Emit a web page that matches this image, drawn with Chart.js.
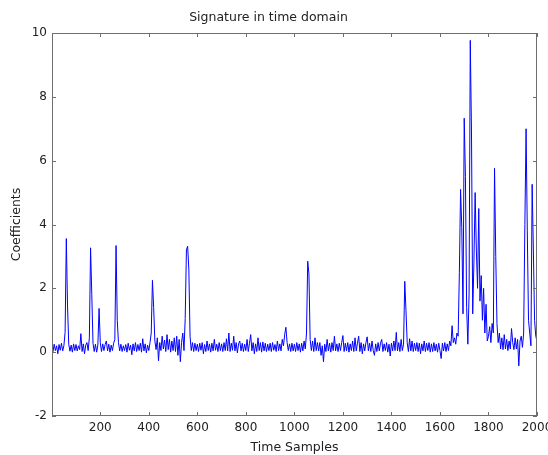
<!DOCTYPE html>
<html>
<head>
<meta charset="UTF-8">
<title>Signature in time domain</title>
<script src="https://cdn.jsdelivr.net/npm/chart.js@4"></script>
<style>
  body { margin: 0; background: #fff; }
  #wrap { width: 548px; height: 455px; }
</style>
</head>
<body>
<div id="wrap"><canvas id="sig"></canvas></div>
<script>
// one coefficient every 5 time samples (sample 0 .. 2000)
const sampleStep = 5;
const coefficients = [
  0.22, 0.02, 0.25, 0.05, 0.2, -0.05, 0.24, 0.06, 0.28, 0.04, 0.2, 0.62, 3.56, 1.45, 0.25, 0.03, 0.22, 0.0, 0.26, 0.05,
  0.24, 0.04, 0.2, 0.08, 0.58, 0.02, 0.26, -0.05, 0.22, 0.3, 0.05, 0.45, 3.27, 1.8, 0.28, 0.02, 0.25, 0.0, 0.22, 1.37,
  0.3, 0.02, 0.26, 0.05, 0.24, 0.35, 0.04, 0.25, 0.0, 0.22, 0.05, 0.28, 0.4, 3.34, 1.0, 0.3, 0.04, 0.25, 0.02, 0.2,
  0.05, 0.24, 0.0, 0.28, 0.06, 0.22, -0.08, 0.26, 0.04, 0.3, 0.02, 0.24, 0.05, 0.28, 0.0, 0.42, 0.04, 0.26, -0.02, 0.22,
  0.05, 0.3, 0.6, 2.25, 1.4, 0.35, 0.08, 0.45, -0.27, 0.3, 0.05, 0.5, 0.1, 0.38, 0.02, 0.55, 0.08, 0.4, 0.0, 0.35,
  0.05, 0.45, 0.02, 0.5, -0.1, 0.4, -0.3, 0.3, 0.6, 0.05, 1.05, 3.2, 3.32, 2.6, 0.5, 0.05, 0.3, 0.02, 0.28, 0.05,
  0.25, 0.02, 0.28, 0.06, 0.3, -0.05, 0.24, 0.02, 0.35, 0.05, 0.26, 0.0, 0.28, 0.04, 0.4, 0.06, 0.25, 0.02, 0.3, 0.05,
  0.26, 0.02, 0.3, 0.05, 0.42, 0.04, 0.6, 0.02, 0.28, 0.06, 0.5, 0.04, 0.3, -0.02, 0.26, 0.35, 0.04, 0.28, 0.02, 0.25,
  0.05, 0.4, 0.02, 0.28, 0.55, 0.04, 0.3, -0.05, 0.26, 0.02, 0.45, 0.05, 0.3, 0.0, 0.32, 0.04, 0.28, 0.02, 0.25, 0.05,
  0.28, 0.02, 0.3, 0.06, 0.24, 0.02, 0.35, 0.05, 0.26, 0.04, 0.4, 0.2, 0.55, 0.78, 0.3, 0.05, 0.26, 0.02, 0.28, 0.04,
  0.25, 0.02, 0.3, 0.05, 0.26, 0.0, 0.28, 0.04, 0.35, 0.1, 0.6, 2.85, 2.45, 0.4, 0.05, 0.35, 0.02, 0.45, 0.05, 0.3,
  0.04, 0.3, -0.1, 0.2, -0.3, 0.25, 0.02, 0.4, 0.04, 0.28, 0.0, 0.3, 0.05, 0.5, 0.04, 0.26, 0.02, 0.28, 0.05, 0.3,
  0.52, 0.02, 0.28, 0.04, 0.3, 0.0, 0.26, 0.05, 0.35, 0.02, 0.45, 0.04, 0.28, 0.5, 0.02, 0.3, -0.05, 0.26, 0.04, 0.3,
  0.48, 0.04, 0.28, 0.02, 0.35, 0.05, -0.1, 0.26, 0.02, 0.3, 0.04, 0.28, 0.4, 0.02, 0.26, 0.05, 0.3, 0.0, 0.25, -0.12,
  0.28, 0.04, 0.35, 0.05, 0.62, 0.04, 0.3, 0.02, 0.4, 0.05, 0.25, 2.22, 1.3, 0.3, 0.02, 0.42, 0.04, 0.35, 0.02, 0.28,
  0.05, 0.3, 0.02, 0.28, -0.05, 0.26, 0.04, 0.35, 0.02, 0.28, 0.05, 0.3, 0.0, 0.26, 0.02, 0.3, 0.04, 0.25, 0.0, 0.28,
  0.05, -0.2, 0.28, 0.04, 0.3, 0.02, 0.26, 0.05, 0.35, 0.2, 0.83, 0.3, 0.45, 0.25, 0.6, 0.5, 2.5, 5.1, 3.9, 1.2,
  7.33, 5.5, 1.4, 0.25, 1.8, 9.77, 6.9, 1.2, 2.8, 5.0, 3.2, 2.0, 4.5, 1.6, 2.4, 1.0, 2.0, 0.6, 1.5, 0.35,
  0.5, 0.8, 0.3, 0.9, 0.6, 5.76, 3.0, 0.9, 0.3, 0.6, 0.1, 0.45, 0.08, 0.55, 0.1, 0.4, 0.05, 0.35, 0.1, 0.74,
  0.3, 0.08, 0.45, 0.1, 0.4, -0.43, 0.35, 0.5, 0.15, 0.6, 4.0, 7.0, 3.8, 1.0, 0.6, 0.2, 5.26, 3.2, 1.0, 0.5,
  0.35
];
const xTickValues = [200, 400, 600, 800, 1000, 1200, 1400, 1600, 1800, 2000];
const yTickValues = [-2, 0, 2, 4, 6, 8, 10];

const points = coefficients.map((c, i) => ({ x: i * sampleStep, y: c }));

const textColor = '#222';
const axisColor = '#6e6e6e';
const font = 'DejaVu Sans';

// box around the plot with inward tick marks on all four sides
const framePlugin = {
  id: 'frame',
  afterDraw(chart) {
    const { ctx, chartArea: a, scales: { x, y } } = chart;
    const len = 4;
    ctx.save();
    ctx.strokeStyle = axisColor;
    ctx.lineWidth = 1;
    ctx.strokeRect(a.left + 0.5, a.top + 0.5, a.right - a.left - 1, a.bottom - a.top - 1);
    ctx.beginPath();
    xTickValues.forEach(v => {
      const px = Math.round(x.getPixelForValue(v)) + 0.5;
      ctx.moveTo(px, a.bottom); ctx.lineTo(px, a.bottom - len);
      ctx.moveTo(px, a.top); ctx.lineTo(px, a.top + len);
    });
    yTickValues.forEach(v => {
      const py = Math.round(y.getPixelForValue(v)) + 0.5;
      ctx.moveTo(a.left, py); ctx.lineTo(a.left + len, py);
      ctx.moveTo(a.right, py); ctx.lineTo(a.right - len, py);
    });
    ctx.stroke();
    ctx.restore();
  }
};

new Chart(document.getElementById('sig'), {
  type: 'line',
  data: {
    datasets: [{
      data: points,
      borderColor: '#0000ff',
      borderWidth: 1,
      pointRadius: 0,
      tension: 0,
      fill: false
    }]
  },
  options: {
    responsive: true,
    maintainAspectRatio: false,
    animation: false,
    events: [],
    layout: { padding: { right: 11 } },
    plugins: {
      legend: { display: false },
      tooltip: { enabled: false },
      title: {
        display: true,
        text: 'Signature in time domain',
        color: textColor,
        font: { family: font, size: 12.5, weight: 'normal' },
        padding: { top: 10, bottom: 8 }
      }
    },
    scales: {
      x: {
        type: 'linear',
        min: 1,
        max: 2000,
        grid: { display: false, drawTicks: false },
        border: { display: false },
        afterBuildTicks: s => { s.ticks = xTickValues.map(v => ({ value: v })); },
        afterFit: s => { s.height = 39; s.paddingLeft = 0; s.paddingRight = 0; },
        ticks: {
          autoSkip: false,
          maxRotation: 0,
          padding: 5,
          color: textColor,
          font: { family: font, size: 12 },
          callback: v => String(v)
        },
        title: {
          display: true,
          text: 'Time Samples',
          color: textColor,
          font: { family: font, size: 12.5 },
          padding: { top: 0, bottom: 0 }
        }
      },
      y: {
        min: -2,
        max: 10,
        grid: { display: false, drawTicks: false },
        border: { display: false },
        afterBuildTicks: s => { s.ticks = yTickValues.map(v => ({ value: v })); },
        afterFit: s => { s.width = 52; s.paddingTop = 0; s.paddingBottom = 0; },
        ticks: {
          padding: 5,
          color: textColor,
          font: { family: font, size: 12 }
        },
        title: {
          display: true,
          text: 'Coefficients',
          color: textColor,
          font: { family: font, size: 12.5 },
          padding: { top: 9, bottom: 0 }
        }
      }
    }
  },
  plugins: [framePlugin]
});
</script>
</body>
</html>
